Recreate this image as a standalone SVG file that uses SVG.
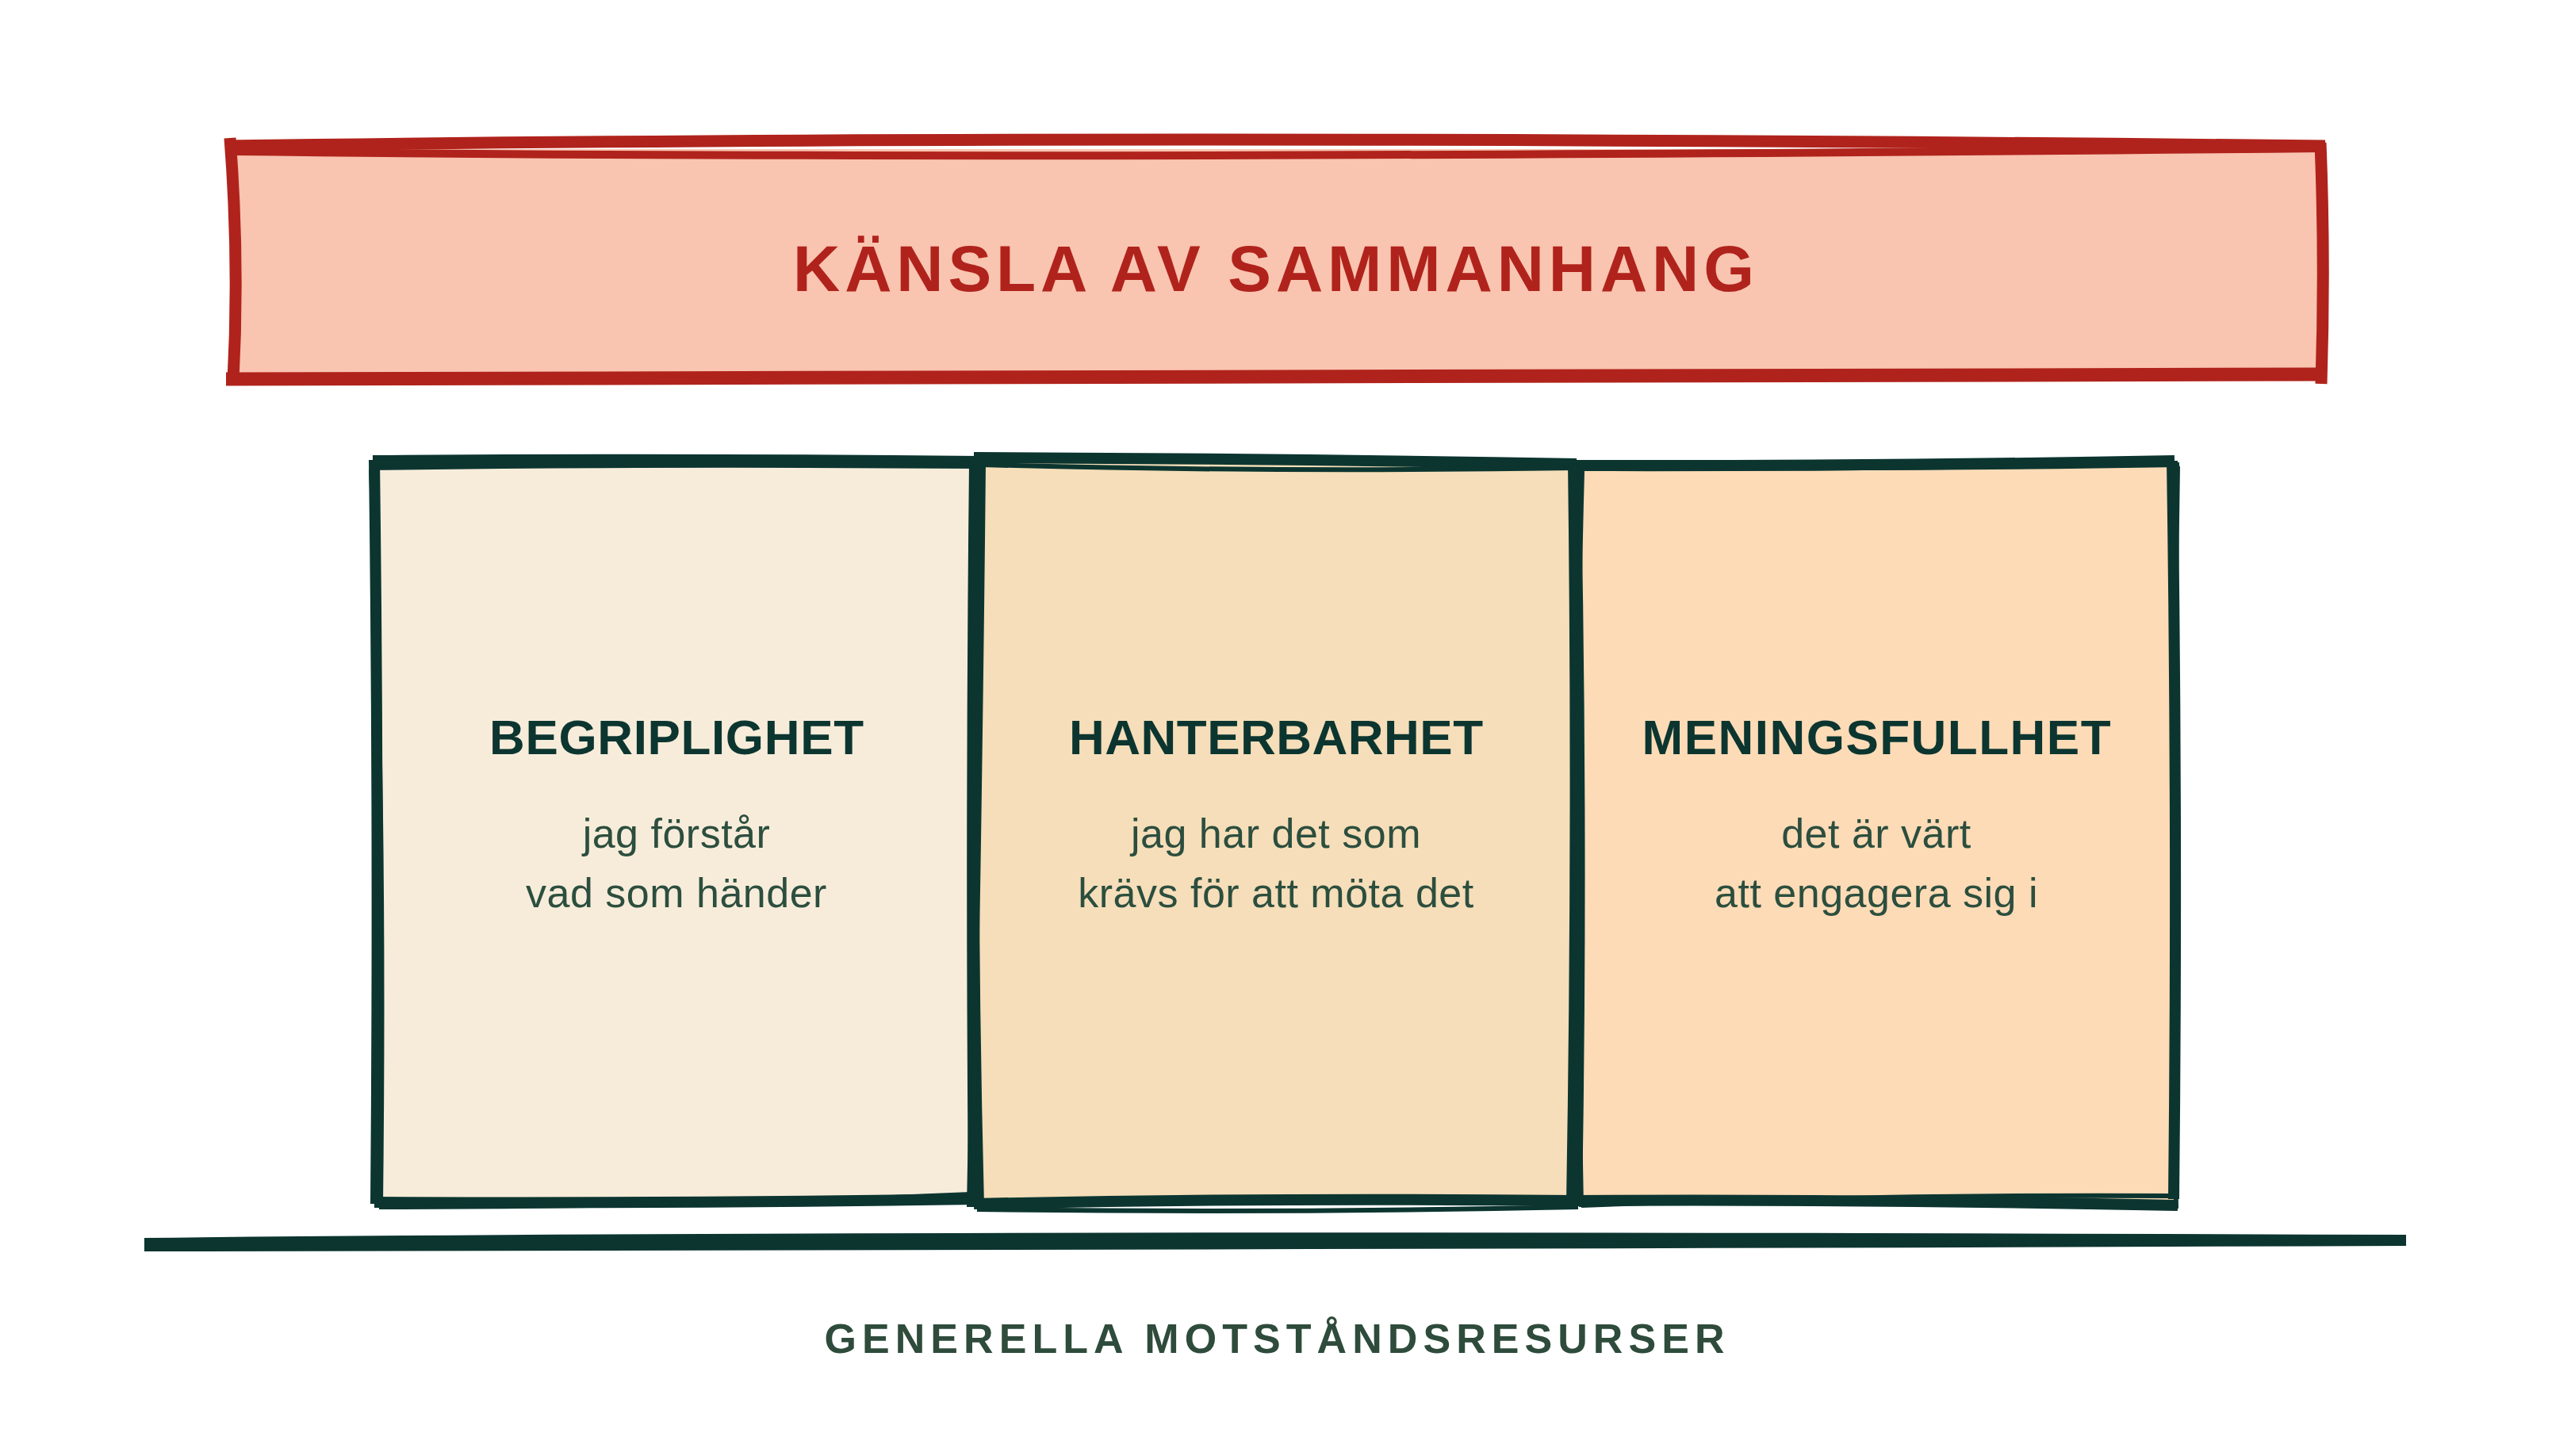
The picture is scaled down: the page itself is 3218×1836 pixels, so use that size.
<svg xmlns="http://www.w3.org/2000/svg" width="3218" height="1836" viewBox="0 0 3218 1836">
<style>
.red{fill:none;stroke:#B0231C;stroke-linecap:butt;stroke-linejoin:round}
.dk{fill:none;stroke:#0C3530;stroke-linecap:butt;stroke-linejoin:round}
.w1{stroke-width:14}
.w2{stroke-width:6}
.hd{font-family:"Liberation Sans",Arial,sans-serif;font-weight:700;text-anchor:middle}
.sub{font-family:"Liberation Sans",Arial,sans-serif;font-size:52px;fill:#2C4E3E;text-anchor:middle;letter-spacing:0.5px}
.bt{font-size:62px;fill:#0C3530}
</style>
<rect width="3218" height="1836" fill="#FFFFFF"/>

<g id="title">
<path d="M293 188 L2926 188 L2926 474 L293 474 Z" fill="#F9C4B0"/>
<path class="red" stroke-width="15" d="M286 184 Q1400 168 2932 184"/>
<path class="red" stroke-width="10" d="M296 191 Q1300 203 2930 187"/>
<path class="red" stroke-width="15" d="M2926 180 Q2932 330 2927 484"/>
<path class="red" stroke-width="17" d="M285 478 L2930 472"/>
<path class="red" stroke-width="15" d="M290 174 Q302 330 294 480"/>
<text class="hd" x="1606" y="367" font-size="82" fill="#B0231C" textLength="1212" lengthAdjust="spacing">KÄNSLA AV SAMMANHANG</text>
</g>

<g id="begriplighet">
<path d="M474 583 L1231 583 L1231 1514 L474 1514 Z" fill="#F7ECDA"/>
<path class="dk w1" d="M470 581 Q850 578 1234 582"/>
<path class="dk w1" d="M1229 584 Q1224 1050 1228 1516"/>
<path class="dk w1" d="M1232 1512 Q850 1518 472 1516"/>
<path class="dk w1" d="M474 1518 Q478 1050 472 580"/>
<path class="dk w2" d="M466 590 Q800 585 1236 588"/>
<path class="dk w2" d="M1236 578 Q1232 1000 1222 1522"/>
<path class="dk w2" d="M1224 1506 Q860 1522 478 1522"/>
<path class="dk w2" d="M480 1520 Q486 1000 468 592"/>
<text class="hd bt" x="853" y="951" textLength="472" lengthAdjust="spacing">BEGRIPLIGHET</text>
<text class="sub" x="853" y="1069">jag förstår</text>
<text class="sub" x="853" y="1144">vad som händer</text>
</g>

<g id="hanterbarhet">
<path d="M1231 579 L1985 585 L1985 1516 L1231 1518 Z" fill="#F5DEB9"/>
<path class="dk w1" d="M1228 577 Q1600 578 1988 585"/>
<path class="dk w1" d="M1984 582 Q1990 1050 1982 1518"/>
<path class="dk w1" d="M1986 1514 Q1600 1510 1228 1518"/>
<path class="dk w1" d="M1234 1520 Q1222 1050 1232 576"/>
<path class="dk w2" d="M1238 586 Q1600 596 1990 590"/>
<path class="dk w2" d="M1990 590 Q1982 1100 1988 1520"/>
<path class="dk w2" d="M1990 1522 Q1600 1530 1232 1525"/>
<path class="dk w2" d="M1226 1522 Q1236 1000 1240 585"/>
<text class="hd bt" x="1609" y="951" textLength="522" lengthAdjust="spacing">HANTERBARHET</text>
<text class="sub" x="1609" y="1069">jag har det som</text>
<text class="sub" x="1609" y="1144">krävs för att möta det</text>
</g>

<g id="meningsfullhet">
<path d="M1986 585 L2741 583 L2741 1516 L1986 1514 Z" fill="#FCDBB6"/>
<path class="dk w1" d="M1984 587 Q2360 588 2742 581"/>
<path class="dk w1" d="M2739 581 Q2746 1050 2741 1512"/>
<path class="dk w1" d="M2746 1520 Q2360 1512 1988 1514"/>
<path class="dk w1" d="M1988 1518 Q1996 1050 1986 584"/>
<path class="dk w2" d="M1992 590 Q2400 592 2748 586"/>
<path class="dk w2" d="M2746 588 Q2738 1100 2744 1524"/>
<path class="dk w2" d="M2738 1508 Q2360 1506 1994 1520"/>
<path class="dk w2" d="M1994 1522 Q1984 1000 1995 594"/>
<text class="hd bt" x="2366" y="951" textLength="591" lengthAdjust="spacing">MENINGSFULLHET</text>
<text class="sub" x="2366" y="1069">det är värt</text>
<text class="sub" x="2366" y="1144">att engagera sig i</text>
</g>

<g id="connectors">
<path d="M182 1561 Q1200 1550 3034 1557 L3034 1571 Q1600 1576 182 1578 Z" fill="#0C3530"/>
</g>

<g id="resurser">
<text class="hd" x="1607" y="1706" font-size="52" fill="#2E4B3B" textLength="1135" lengthAdjust="spacing">GENERELLA MOTSTÅNDSRESURSER</text>
</g>
</svg>
